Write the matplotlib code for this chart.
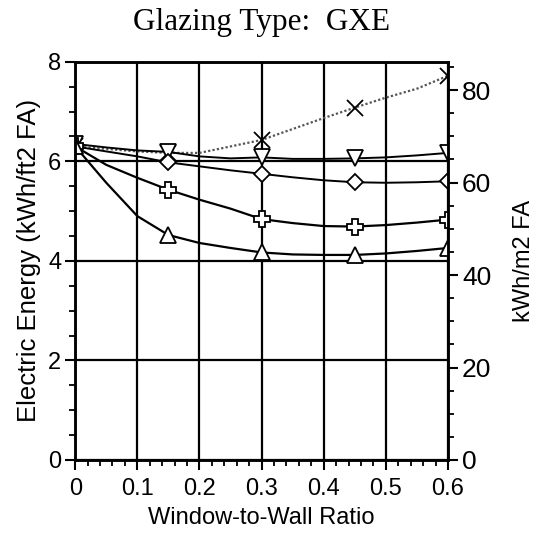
import matplotlib.pyplot as plt
import numpy as np
from matplotlib.ticker import MultipleLocator

# window-to-wall ratio (curve read points), markers every 0.15
wwr = [0.0, 0.05, 0.1, 0.15, 0.2, 0.25, 0.3, 0.35, 0.4, 0.45, 0.5, 0.55, 0.6]
mark_idx = [0, 3, 6, 9, 12]

# electric energy, kWh/ft2 FA
e_x = [6.30, 6.25, 6.20, 6.17, 6.17, 6.30, 6.43, 6.65, 6.87, 7.08, 7.28, 7.46, 7.72]
e_tri_dn = [6.35, 6.28, 6.22, 6.19, 6.10, 6.06, 6.08, 6.05, 6.05, 6.06, 6.08, 6.12, 6.17]
e_diam = [6.30, 6.20, 6.10, 5.98, 5.90, 5.82, 5.75, 5.68, 5.62, 5.58, 5.57, 5.58, 5.60]
e_plus = [6.30, 5.93, 5.67, 5.43, 5.23, 5.05, 4.84, 4.76, 4.70, 4.69, 4.72, 4.77, 4.83]
e_tri_up = [6.30, 5.57, 4.90, 4.52, 4.36, 4.26, 4.17, 4.13, 4.12, 4.12, 4.15, 4.20, 4.26]

ft2_to_m2 = 10.764

plt.rcParams['font.family'] = ['Liberation Sans', 'DejaVu Sans']

fig = plt.figure(figsize=(5.45, 5.33), dpi=100)
ax = fig.add_axes([0.138, 0.137, 0.684, 0.747])

# grid first so curves sit on top
ax.set_axisbelow(True)
ax.grid(True, which='major', color='black', linewidth=1.6)

mk = dict(markevery=mark_idx, markersize=11, markerfacecolor='white',
          markeredgecolor='black', markeredgewidth=1.3)
ax.plot(wwr, e_x, color='#555555', linestyle=(0, (1, 1)), linewidth=1.6,
        marker='x', **mk)
ax.plot(wwr, e_tri_dn, color='black', linewidth=1.4, marker='v', **mk)
ax.plot(wwr, e_diam, color='black', linewidth=1.4, marker='D', **dict(mk, markersize=8))
ax.plot(wwr, e_plus, color='black', linewidth=1.6, marker='P', **mk)
ax.plot(wwr, e_tri_up, color='black', linewidth=1.6, marker='^', **mk)

ax.set_xlim(0, 0.6)
ax.set_ylim(0, 8)
ax.set_xticks([0, 0.1, 0.2, 0.3, 0.4, 0.5, 0.6])
ax.set_xticklabels(['0', '0.1', '0.2', '0.3', '0.4', '0.5', '0.6'])
ax.xaxis.set_minor_locator(MultipleLocator(0.02))
ax.yaxis.set_major_locator(MultipleLocator(2))
ax.yaxis.set_minor_locator(MultipleLocator(0.5))
ax.tick_params(which='major', direction='out', length=7, width=1.5, labelsize=17, pad=3)
ax.tick_params(axis='x', which='major', pad=6)
ax.tick_params(which='minor', direction='out', length=4, width=1.3)
for s in ax.spines.values():
    s.set_linewidth(1.8)

ax.set_xlabel('Window-to-Wall Ratio', fontsize=17, labelpad=5)
ax.set_ylabel('Electric Energy (kWh/ft2 FA)', fontsize=18.5, labelpad=5)

ax2 = ax.twinx()
ax2.set_ylim(0, 8 * ft2_to_m2)
ax2.yaxis.set_major_locator(MultipleLocator(20))
ax2.yaxis.set_minor_locator(MultipleLocator(5))
ax2.tick_params(which='major', direction='out', length=7, width=1.5, labelsize=19, pad=3)
ax2.tick_params(which='minor', direction='out', length=4, width=1.3)
ax2.set_ylabel('kWh/m2 FA', fontsize=17, labelpad=16)
for s in ax2.spines.values():
    s.set_linewidth(1.8)

fig.suptitle('Glazing Type:  GXE', family='Liberation Serif', fontsize=22.5,
             x=0.48, y=0.985)

fig.savefig('out.png', dpi=100)
